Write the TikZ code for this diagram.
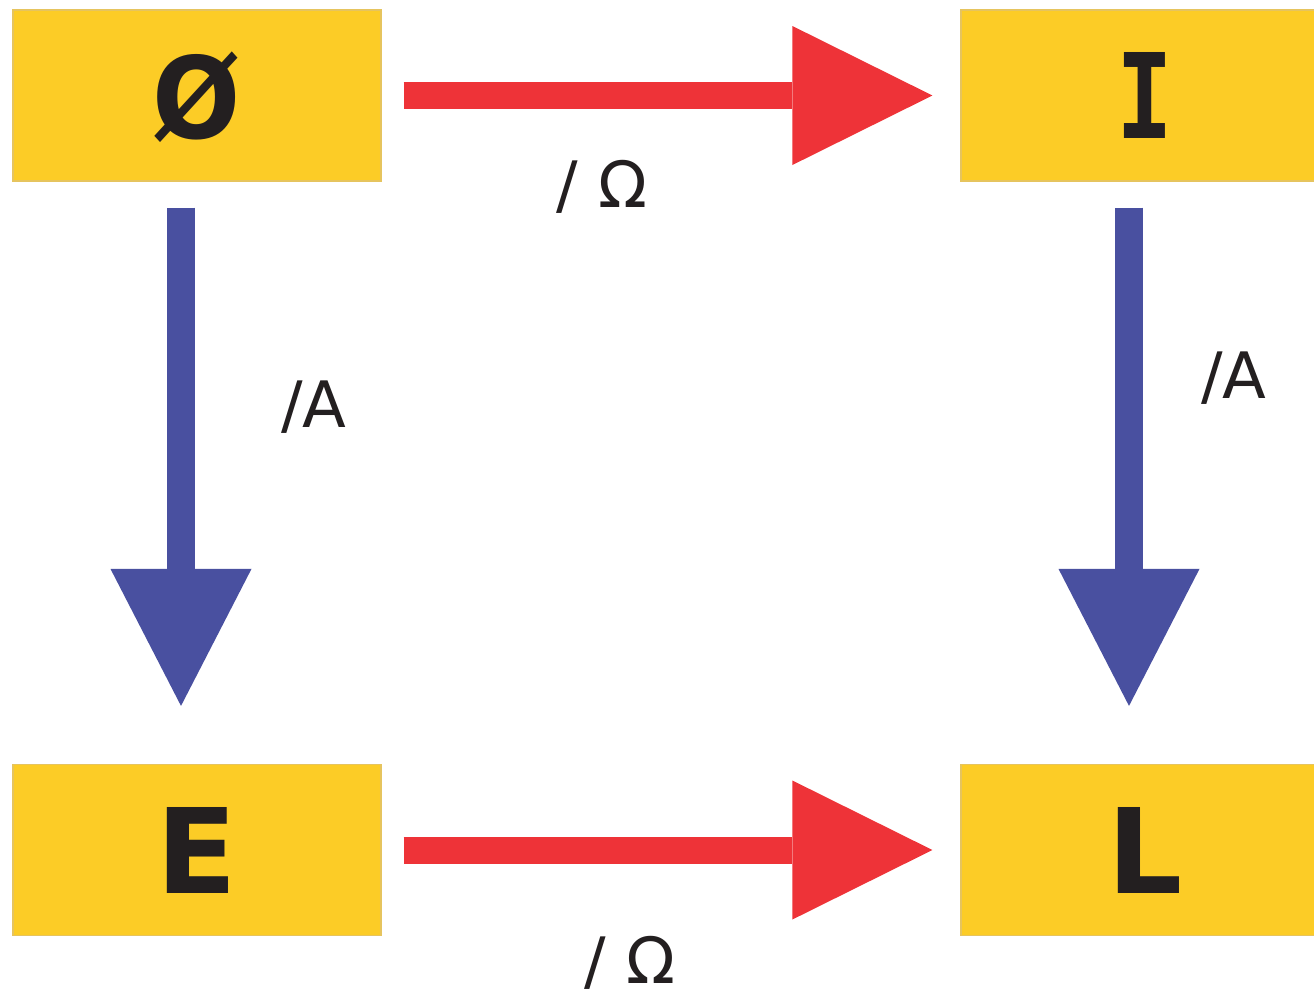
\documentclass[tikz,border=0pt]{standalone}
\usepackage{fontspec}
\setmainfont{DejaVu Sans}
\newfontfamily\slabfont{DejaVu Sans Mono}
\usetikzlibrary{arrows.meta}
\definecolor{boxyellow}{HTML}{FCCC26}
\definecolor{boxedge}{HTML}{E6C45E}
\definecolor{arrowred}{HTML}{EE3338}
\definecolor{arrowblue}{HTML}{4950A0}
\definecolor{ink}{HTML}{231F20}
\begin{document}
\begin{tikzpicture}[x=1pt,y=-1pt,
  box/.style={rectangle, fill=boxyellow, draw=boxedge, line width=1.2pt,
    minimum width=368pt, minimum height=171pt, inner sep=0pt,
    text height=86pt, text depth=0pt,
    font=\fontsize{118}{118}\selectfont\bfseries, text=ink},
  redarrow/.style={draw=arrowred, line width=27pt,
    -{Triangle[length=140pt,width=139pt,line width=0pt,fill=arrowred]}},
  bluearrow/.style={draw=arrowblue, line width=28pt,
    -{Triangle[length=137pt,width=141pt,line width=0pt,fill=arrowblue]}},
  lbl/.style={font=\fontsize{64}{64}\selectfont, text=ink, anchor=base, inner sep=0pt}]
\useasboundingbox (0,0) rectangle (1314,997);
\clip (0,0) rectangle (1314,997);
\fill[white] (0,0) rectangle (1314,997);

% the four state boxes
\node[box] (empty) at (197,95.5) {\scalebox{0.88}[0.96]{Ø}};
\node[box] (istate) at (1145,95.5) {\slabfont\bfseries\scalebox{0.8}[1]{I}};
\node[box] (estate) at (197,850) {E};
\node[box] (lstate) at (1145,850) {L};

% transitions
\draw[redarrow, shorten <=22pt, shorten >=28pt] (empty.east) -- (istate.west);
\draw[redarrow, shorten <=22pt, shorten >=28pt] (estate.east) -- (lstate.west);
\draw[bluearrow, shorten <=26pt, shorten >=58pt]
  ([xshift=-16pt]empty.south) -- ([xshift=-16pt]estate.north);
\draw[bluearrow, shorten <=26pt, shorten >=58pt]
  ([xshift=-16pt]istate.south) -- ([xshift=-16pt]lstate.north);

% transition labels
\node[lbl] (omegatop) at (602,207) {/ Ω};
\node[lbl] (omegabot) at (630,983) {/ Ω};
\node[lbl] (aleft) at (314,427) {/A};
\node[lbl] (aright) at (1234,398) {/A};
\end{tikzpicture}
\end{document}
